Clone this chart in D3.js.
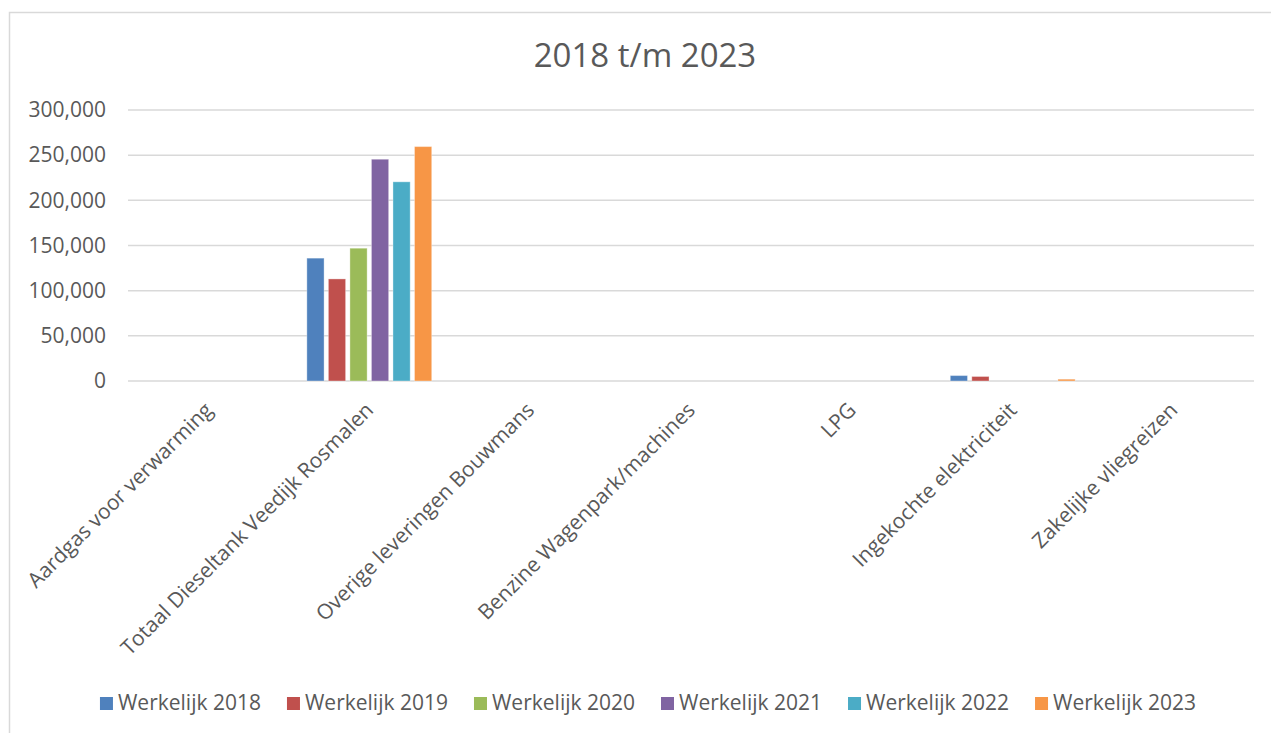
<!DOCTYPE html>
<html>
<head>
<meta charset="utf-8">
<script src="https://cdn.jsdelivr.net/npm/d3@7"></script>
<style>
  body { margin: 0; background: #fff; }
  text { font-family: "Open Sans", "Liberation Sans", sans-serif; fill: #595959; }
</style>
</head>
<body>
<svg width="1271" height="733"></svg>
<script>
// categories and series
var categories = ["Aardgas voor verwarming", "Totaal Dieseltank Veedijk Rosmalen", "Overige leveringen Bouwmans",
  "Benzine Wagenpark/machines", "LPG", "Ingekochte elektriciteit", "Zakelijke vliegreizen"];
var seriesNames = ["Werkelijk 2018", "Werkelijk 2019", "Werkelijk 2020", "Werkelijk 2021", "Werkelijk 2022", "Werkelijk 2023"];
var colors = ["#4F81BD", "#C0504D", "#9BBB59", "#8064A2", "#4BACC6", "#F79646"];

// values per series (one per category)
var w2018 = [0, 136000, 0, 0, 0, 6000, 0];
var w2019 = [0, 113000, 0, 0, 0, 5000, 0];
var w2020 = [0, 147000, 0, 0, 0, 0, 0];
var w2021 = [0, 245500, 0, 0, 0, 0, 0];
var w2022 = [0, 220500, 0, 0, 0, 0, 0];
var w2023 = [0, 259500, 0, 0, 0, 2000, 0];
var series = [w2018, w2019, w2020, w2021, w2022, w2023];

var yTicks = [0, 50000, 100000, 150000, 200000, 250000, 300000];

var margin = {top: 110, left: 128, right: 17, bottom: 352},
    width = 1271 - margin.left - margin.right,
    height = 733 - margin.top - margin.bottom;

var svg = d3.select("svg");

// outer chart border
svg.append("rect")
  .attr("x", 9.5).attr("y", 12.5)
  .attr("width", 1290).attr("height", 800)
  .attr("fill", "none")
  .attr("stroke", "#D9D9D9")
  .attr("stroke-width", 1.5);

// title
svg.append("text")
  .attr("x", 645).attr("y", 67)
  .attr("text-anchor", "middle")
  .style("font-size", "33px")
  .text("2018 t/m 2023");

var g = svg.append("g")
  .attr("transform", "translate(" + margin.left + "," + margin.top + ")");

var x0 = d3.scaleBand().domain(categories).range([0, width]);
var x1 = d3.scaleBand().domain(seriesNames)
  .range([18, x0.bandwidth() - 18]).paddingInner(0.2);
var y = d3.scaleLinear().domain([0, 300000]).range([height, 0]);

// gridlines
g.append("g")
  .selectAll("line")
  .data(yTicks)
  .enter().append("line")
  .attr("x1", 0).attr("x2", width)
  .attr("y1", function(d) { return y(d); })
  .attr("y2", function(d) { return y(d); })
  .attr("stroke", "#D9D9D9")
  .attr("stroke-width", 1.5);

// y axis labels
var yAxis = d3.axisLeft(y).tickValues(yTicks).tickSize(0).tickPadding(22)
  .tickFormat(d3.format(","));
g.append("g").call(yAxis)
  .call(function(a) { a.select(".domain").remove(); })
  .selectAll("text")
  .style("font-size", "21px")
  .attr("fill", "#595959");

// bars
var groups = g.selectAll(".cat")
  .data(categories)
  .enter().append("g")
  .attr("class", "cat")
  .attr("transform", function(d) { return "translate(" + x0(d) + ",0)"; });

groups.selectAll("rect")
  .data(function(d, i) {
    return series.map(function(s, j) { return {name: seriesNames[j], value: s[i], color: colors[j]}; });
  })
  .enter().append("rect")
  .filter(function(d) { return d.value > 0; })
  .attr("x", function(d) { return x1(d.name); })
  .attr("width", x1.bandwidth())
  .attr("y", function(d) { return y(d.value); })
  .attr("height", function(d) { return height - y(d.value); })
  .attr("fill", function(d) { return d.color; })
  .attr("stroke", "rgba(255,255,255,0.35)")
  .attr("stroke-width", 1);

// category labels, rotated
g.append("g")
  .selectAll("text")
  .data(categories)
  .enter().append("text")
  .attr("transform", function(d) {
    return "translate(" + (x0(d) + x0.bandwidth() / 2 - 5) + "," + (height + 20) + ") rotate(-45)";
  })
  .attr("text-anchor", "end")
  .attr("dy", "0.7em")
  .style("font-size", "21px")
  .text(function(d) { return d; });

// legend
var legend = svg.append("g").attr("transform", "translate(0,703)");
var items = legend.selectAll("g")
  .data(seriesNames)
  .enter().append("g");
items.append("rect")
  .attr("y", -6).attr("width", 13).attr("height", 13)
  .attr("fill", function(d, i) { return colors[i]; });
items.append("text")
  .attr("x", 18).attr("dy", "0.35em")
  .style("font-size", "21px")
  .text(function(d) { return d; });

var widths = [];
items.each(function() { widths.push(this.getBBox().width); });
var gap = 26;
var total = d3.sum(widths) + gap * (widths.length - 1);
var cx = 648 - total / 2;
items.attr("transform", function(d, i) {
  var pos = cx;
  cx += widths[i] + gap;
  return "translate(" + pos + ",0)";
});
</script>
</body>
</html>
